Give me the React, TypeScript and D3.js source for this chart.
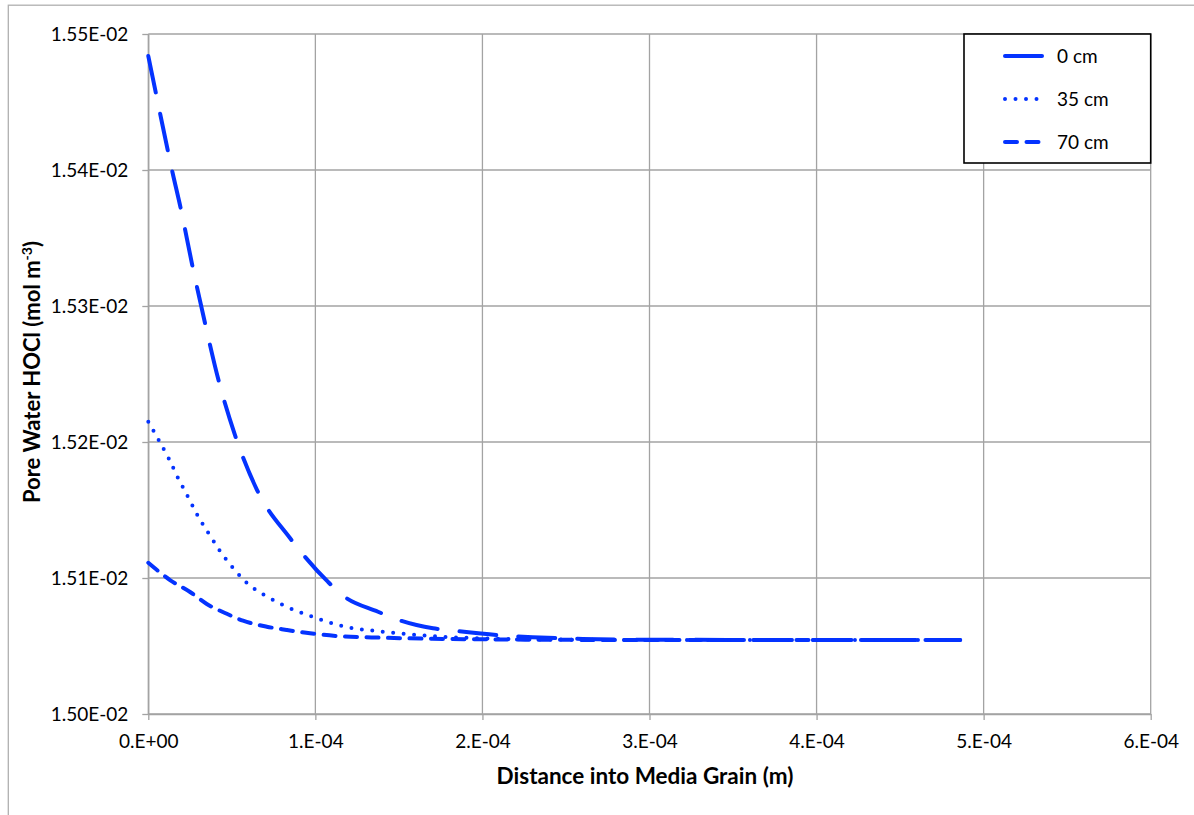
import * as d3 from 'd3';
import { useRef, useEffect } from 'react';

// axis ticks
const xTickValues = [0, 1e-4, 2e-4, 3e-4, 4e-4, 5e-4, 6e-4];
const xTickLabels = ['0.E+00', '1.E-04', '2.E-04', '3.E-04', '4.E-04', '5.E-04', '6.E-04'];
const yTickValues = [0.015, 0.0151, 0.0152, 0.0153, 0.0154, 0.0155];
const yTickLabels = ['1.50E-02', '1.51E-02', '1.52E-02', '1.53E-02', '1.54E-02', '1.55E-02'];

const seriesNames = ['0 cm', '35 cm', '70 cm'];

// distance into grain (m) and pore water HOCl (mol m-3)
const dist0cm = [0, 0.07e-4, 0.144e-4, 0.194e-4, 0.263e-4, 0.339e-4, 0.419e-4, 0.519e-4, 0.651e-4, 0.848e-4,
  1.076e-4, 1.166e-4, 1.375e-4, 1.487e-4, 1.704e-4, 1.824e-4, 2.087e-4, 2.3e-4, 2.6e-4, 3.0e-4, 4.0e-4, 4.86e-4];
const hocl0cm = [0.0154838, 0.0154419, 0.0153987, 0.0153718, 0.0153301, 0.0152877, 0.0152461, 0.0152051, 0.0151647, 0.0151294,
  0.0150971, 0.015087, 0.0150752, 0.0150696, 0.015063, 0.0150613, 0.015058, 0.0150565, 0.0150552, 0.0150546, 0.0150544, 0.0150544];

const dist35cm = [0, 0.064e-4, 0.124e-4, 0.178e-4, 0.238e-4, 0.297e-4, 0.363e-4, 0.433e-4, 0.513e-4, 0.597e-4,
  0.704e-4, 0.818e-4, 0.938e-4, 1.058e-4, 1.177e-4, 1.367e-4, 1.686e-4, 2.1e-4, 2.6e-4, 3.0e-4, 4.0e-4, 4.86e-4];
const hocl35cm = [0.0152149, 0.015201, 0.0151875, 0.0151735, 0.0151596, 0.0151456, 0.0151324, 0.0151191, 0.0151066, 0.0150956,
  0.0150868, 0.0150794, 0.0150735, 0.0150684, 0.0150642, 0.015061, 0.0150574, 0.0150553, 0.0150546, 0.0150544, 0.0150544, 0.0150544];

const dist70cm = [0, 0.13e-4, 0.25e-4, 0.35e-4, 0.459e-4, 0.567e-4, 0.709e-4, 0.828e-4, 0.968e-4, 1.147e-4,
  1.4e-4, 1.7e-4, 2.1e-4, 2.6e-4, 3.0e-4, 4.0e-4, 4.86e-4];
const hocl70cm = [0.0151112, 0.0150985, 0.0150897, 0.0150809, 0.0150743, 0.0150686, 0.0150642, 0.0150618, 0.0150593, 0.0150572,
  0.0150561, 0.0150553, 0.0150548, 0.0150545, 0.0150544, 0.0150544, 0.0150544];

const seriesDist = [dist0cm, dist35cm, dist70cm];
const seriesHocl = [hocl0cm, hocl35cm, hocl70cm];
const dashes = ['37 22', '0 10.5', '12 9.5'];

const BLUE = '#0433ff';
const GRID = '#a3a3a3';
const FONT = 'Lato, "Open Sans", sans-serif';

function HoclChart({ width = 1194, height = 815 }) {
  const svgRef = useRef<SVGSVGElement>(null);

  useEffect(() => {
    const svg = d3.select(svgRef.current)
      .attr('width', width)
      .attr('height', height);
    svg.selectAll('*').remove();

    const margin = { top: 34, right: 43.3, bottom: 101, left: 148.3 };
    const innerWidth = width - margin.left - margin.right;
    const innerHeight = height - margin.top - margin.bottom;

    // chart frame (runs off the picture to the right and bottom)
    svg.append('rect')
      .attr('x', 8.3).attr('y', 5.2)
      .attr('width', 1300).attr('height', 1000)
      .attr('fill', 'white')
      .attr('stroke', '#b0b0b0')
      .attr('stroke-width', 1.3);

    const g = svg.append('g')
      .attr('transform', `translate(${margin.left},${margin.top})`);

    const xScale = d3.scaleLinear().domain([0, 6e-4]).range([0, innerWidth]);
    const yScale = d3.scaleLinear().domain([0.015, 0.0155]).range([innerHeight, 0]);

    // gridlines
    g.append('g').selectAll('line.h')
      .data(yTickValues)
      .enter()
      .append('line')
      .attr('x1', 0).attr('x2', innerWidth)
      .attr('y1', d => yScale(d)).attr('y2', d => yScale(d))
      .attr('stroke', GRID).attr('stroke-width', 1.3);

    g.append('g').selectAll('line.v')
      .data(xTickValues)
      .enter()
      .append('line')
      .attr('y1', 0).attr('y2', innerHeight)
      .attr('x1', d => xScale(d)).attr('x2', d => xScale(d))
      .attr('stroke', GRID).attr('stroke-width', 1.3);

    // axes
    const xAxis = g.append('g')
      .attr('transform', `translate(0,${innerHeight})`)
      .call(d3.axisBottom(xScale)
        .tickValues(xTickValues)
        .tickFormat((_d, i) => xTickLabels[i])
        .tickSize(6)
        .tickSizeOuter(0)
        .tickPadding(15));

    const yAxis = g.append('g')
      .call(d3.axisLeft(yScale)
        .tickValues(yTickValues)
        .tickFormat((_d, i) => yTickLabels[i])
        .tickSize(6)
        .tickSizeOuter(0)
        .tickPadding(14));

    [xAxis, yAxis].forEach(ax => {
      ax.select('.domain').attr('stroke', GRID).attr('stroke-width', 1.3);
      ax.selectAll('.tick line').attr('stroke', GRID).attr('stroke-width', 1.3);
      ax.selectAll('.tick text')
        .attr('fill', '#000')
        .style('font-family', FONT)
        .style('font-size', '19px');
    });

    // series
    const line = d3.line<[number, number]>()
      .x(d => xScale(d[0]))
      .y(d => yScale(d[1]))
      .curve(d3.curveMonotoneX);

    seriesDist.forEach((xs, i) => {
      const pts = xs.map((x, j) => [x, seriesHocl[i][j]] as [number, number]);
      g.append('path')
        .datum(pts)
        .attr('d', line)
        .attr('fill', 'none')
        .attr('stroke', BLUE)
        .attr('stroke-width', 4)
        .attr('stroke-linecap', 'round')
        .attr('stroke-dasharray', dashes[i]);
    });

    // legend
    const lx = 964 - margin.left;
    const leg = g.append('g').attr('transform', `translate(${lx},0)`);
    leg.append('rect')
      .attr('x', 0).attr('y', 0)
      .attr('width', innerWidth - lx).attr('height', 129)
      .attr('fill', 'white')
      .attr('stroke', '#000')
      .attr('stroke-width', 1.6);

    seriesNames.forEach((name, i) => {
      const y = 22 + i * 43;
      leg.append('line')
        .attr('x1', 41).attr('x2', 83)
        .attr('y1', y).attr('y2', y)
        .attr('stroke', BLUE)
        .attr('stroke-width', 4)
        .attr('stroke-linecap', 'round')
        .attr('stroke-dasharray', dashes[i]);
      leg.append('text')
        .attr('x', 93).attr('y', y)
        .attr('dy', '0.36em')
        .style('font-family', FONT)
        .style('font-size', '19px')
        .text(name);
    });

    // axis titles
    svg.append('text')
      .attr('x', 645).attr('y', 784)
      .attr('text-anchor', 'middle')
      .style('font-family', FONT)
      .style('font-size', '22.5px')
      .style('font-weight', 'bold')
      .text('Distance into Media Grain (m)');

    const yTitle = svg.append('text')
      .attr('transform', 'translate(40,372) rotate(-90)')
      .attr('text-anchor', 'middle')
      .style('font-family', FONT)
      .style('font-size', '22px')
      .style('font-weight', 'bold');
    yTitle.append('tspan').text('Pore Water HOCl (mol m');
    yTitle.append('tspan').attr('dy', -8).style('font-size', '14px').text('-3');
    yTitle.append('tspan').attr('dy', 8).text(')');
  }, [width, height]);

  return <svg ref={svgRef} style={{ position: 'absolute', left: 0, top: 0, display: 'block' }}></svg>;
}

export default function App() {
  return <HoclChart />;
}
